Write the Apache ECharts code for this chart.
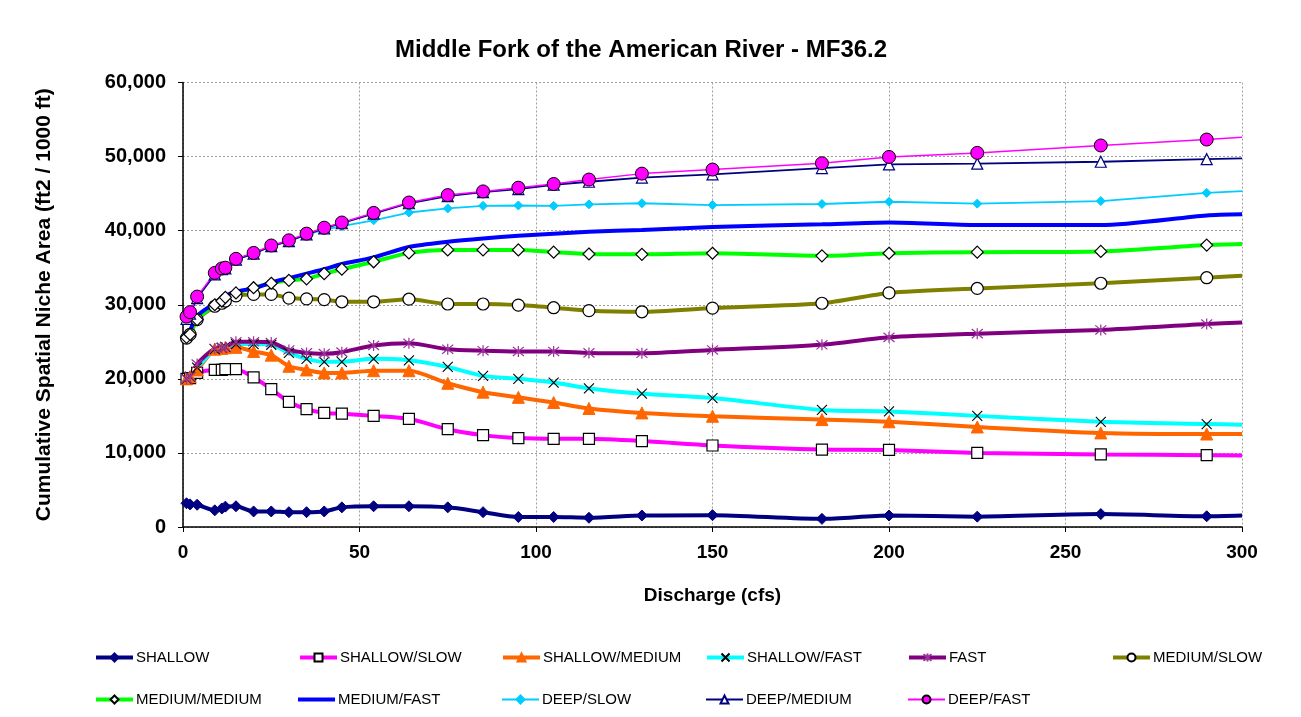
<!DOCTYPE html>
<html>
<head>
<meta charset="utf-8">
<script src="https://cdn.jsdelivr.net/npm/echarts@6/dist/echarts.min.js"></script>
<style>
html,body{margin:0;padding:0;background:#fff;}
#chart{width:1301px;height:717px;}
</style>
</head>
<body>
<div id="chart"></div>
<script>
const discharge = [1,2,4,9,11,12,15,20,25,30,35,40,45,54,64,75,85,95,105,115,130,150,181,200,225,260,290,300];

const shallow       = [3200,3050,3000,2250,2500,2750,2800,2100,2100,2000,2000,2100,2650,2800,2800,2650,2000,1350,1350,1250,1550,1600,1100,1550,1400,1750,1450,1550];
const shallowSlow   = [20000,20100,20800,21200,21200,21300,21300,20200,18600,16900,15900,15400,15300,15000,14600,13200,12400,12000,11900,11900,11600,11000,10450,10400,10000,9800,9700,9650];
const shallowMedium = [20000,20300,21200,24000,24100,24200,24250,23700,23200,21700,21200,20800,20800,21100,21100,19400,18200,17500,16800,16000,15400,14950,14500,14200,13500,12700,12550,12550];
const shallowFast   = [20000,20300,21500,24000,24200,24300,24700,24700,24600,23500,22700,22300,22300,22700,22500,21600,20400,20000,19500,18700,18000,17400,15800,15600,15000,14200,13900,13800];
const fast          = [20000,20300,22000,24100,24200,24300,25000,25000,24900,23900,23500,23400,23600,24500,24800,24000,23800,23700,23700,23500,23450,23900,24600,25600,26100,26600,27400,27600];
const mediumSlow    = [25500,26000,28000,29800,30200,30500,31200,31400,31400,30900,30800,30700,30400,30400,30750,30100,30100,29950,29600,29200,29050,29550,30200,31600,32200,32900,33650,33900];
const mediumMedium  = [25600,26000,28000,30000,30500,31000,31600,32300,32900,33300,33500,34200,34800,35800,37000,37400,37400,37400,37100,36850,36800,36950,36600,36950,37100,37200,38050,38200];
const mediumFast    = [25500,26500,28500,30200,30800,31200,31800,32200,33000,33600,34200,34800,35500,36400,37800,38500,38950,39300,39600,39850,40100,40500,40850,41100,40750,40750,42050,42200];
const deepSlow      = [28200,28800,30900,34100,34800,35000,36100,36900,37900,38600,39500,40100,40600,41400,42450,43000,43350,43400,43350,43550,43700,43450,43600,43900,43650,44000,45100,45350];
const deepMedium    = [28100,28800,30900,34100,34800,34900,36100,36900,37900,38600,39500,40300,41000,42300,43700,44650,45200,45600,46200,46600,47150,47600,48450,48950,49050,49300,49650,49750];
const deepFast      = [28400,29000,31100,34300,34900,35000,36200,37000,38000,38700,39600,40400,41100,42400,43800,44800,45300,45800,46300,46900,47700,48250,49100,49950,50500,51500,52300,52600];

const yTicks = [0,10000,20000,30000,40000,50000,60000];
const xTicks = [0,50,100,150,200,250,300];

function pairs(arr){
  return arr.map((v,i)=> i===arr.length-1 ? {value:[discharge[i],v], symbol:'none'} : [discharge[i],v]);
}

const X_PATH = 'path://M0,0L10,10M10,0L0,10';
const STAR_PATH = 'path://M0,0L10,10M10,0L0,10M5,-1L5,11';

const defs = [
  {name:'SHALLOW', data:shallow, color:'#000080', w:4, symbol:'diamond', size:11, fill:'#000080', border:'#000080', bw:1, smooth:0.25},
  {name:'SHALLOW/SLOW', data:shallowSlow, color:'#FF00FF', w:4, symbol:'rect', size:11, fill:'#ffffff', border:'#000000', bw:1.2, smooth:0.25},
  {name:'SHALLOW/MEDIUM', data:shallowMedium, color:'#FF6600', w:4, symbol:'triangle', size:12, fill:'#FF6600', border:'#FF6600', bw:1, smooth:0.25},
  {name:'SHALLOW/FAST', data:shallowFast, color:'#00FFFF', w:4, symbol:X_PATH, size:10, fill:'transparent', border:'#000000', bw:1.1, smooth:0.25},
  {name:'FAST', data:fast, color:'#800080', w:4, symbol:STAR_PATH, size:11, fill:'transparent', border:'#993399', bw:1.2, smooth:0.25},
  {name:'MEDIUM/SLOW', data:mediumSlow, color:'#808000', w:4, symbol:'circle', size:12, fill:'#ffffff', border:'#000000', bw:1.2, smooth:0.25},
  {name:'MEDIUM/MEDIUM', data:mediumMedium, color:'#00FF00', w:4, symbol:'diamond', size:12, fill:'#ffffff', border:'#000000', bw:1.2, smooth:0.25},
  {name:'MEDIUM/FAST', data:mediumFast, color:'#0000FF', w:4, symbol:'none', size:0, fill:'#0000FF', border:'#0000FF', bw:0, smooth:0.25},
  {name:'DEEP/SLOW', data:deepSlow, color:'#00CCFF', w:1.8, symbol:'diamond', size:9, fill:'#00CCFF', border:'#00CCFF', bw:1, smooth:false},
  {name:'DEEP/MEDIUM', data:deepMedium, color:'#000080', w:1.8, symbol:'triangle', size:11, fill:'#ffffff', border:'#000080', bw:1.2, smooth:false},
  {name:'DEEP/FAST', data:deepFast, color:'#FF00FF', w:1.5, symbol:'circle', size:13, fill:'#FF00FF', border:'#000000', bw:1, smooth:false}
];

const series = defs.map(d => ({
  name: d.name,
  type: 'line',
  data: pairs(d.data),
  smooth: d.smooth,
  symbol: d.symbol,
  symbolSize: d.size,
  showAllSymbol: true,
  lineStyle: {color: d.color, width: d.w},
  itemStyle: {color: d.fill, borderColor: d.border, borderWidth: d.bw},
  emphasis: {disabled: true},
  animation: false,
  clip: true
}));

// legend layout: 6 columns, 2 rows
const legendLeft = [94, 298, 501, 705, 907, 1111];
const legendTop = [650, 692];
const legends = defs.map((d, i) => {
  const item = d.symbol === 'none'
    ? {name: d.name, icon: 'rect', itemStyle: {color: d.color, borderWidth: 0}}
    : {name: d.name};
  return {
    data: [item],
    left: legendLeft[i % 6],
    top: legendTop[Math.floor(i / 6)],
    itemWidth: 37,
    itemHeight: d.symbol === 'none' ? 4 : 10,
    itemGap: 0,
    padding: 0,
    selectedMode: false,
    lineStyle: {width: d.w >= 3 ? 4 : 2},
    textStyle: {fontFamily: 'Liberation Sans, Arial, sans-serif', fontSize: 15, color: '#000', padding: [0,0,0,-2]}
  };
});

const chart = echarts.init(document.getElementById('chart'), null, {renderer: 'canvas'});
chart.setOption({
  backgroundColor: '#ffffff',
  animation: false,
  title: {
    text: 'Middle Fork of the American River - MF36.2',
    left: 390,
    top: 33,
    textStyle: {fontFamily: 'Liberation Sans, Arial, sans-serif', fontSize: 24, fontWeight: 'bold', color: '#000'}
  },
  legend: legends,
  grid: {left: 183, top: 82.5, right: 59, bottom: 190, containLabel: false},
  xAxis: {
    type: 'value',
    min: xTicks[0],
    max: xTicks[xTicks.length-1],
    interval: 50,
    name: 'Discharge (cfs)',
    nameLocation: 'middle',
    nameGap: 59,
    nameTextStyle: {fontFamily: 'Liberation Sans, Arial, sans-serif', fontSize: 19, fontWeight: 'bold', color: '#000'},
    axisLine: {show: true, lineStyle: {color: '#000', width: 1.5}},
    axisTick: {show: true, length: 5, inside: false, lineStyle: {color: '#000'}},
    axisLabel: {fontFamily: 'Liberation Sans, Arial, sans-serif', fontSize: 19, fontWeight: 'bold', color: '#000', margin: 16},
    splitLine: {show: true, lineStyle: {color: '#a0a0a0', width: 1, type: [2, 2]}}
  },
  yAxis: {
    type: 'value',
    min: yTicks[0],
    max: yTicks[yTicks.length-1],
    interval: 10000,
    name: 'Cumulative Spatial Niche Area (ft2 / 1000 ft)',
    nameLocation: 'middle',
    nameGap: 128,
    nameTextStyle: {fontFamily: 'Liberation Sans, Arial, sans-serif', fontSize: 21, fontWeight: 'bold', color: '#000'},
    axisLine: {show: true, lineStyle: {color: '#000', width: 1.5}},
    axisTick: {show: true, length: 5, inside: false, lineStyle: {color: '#000'}},
    axisLabel: {fontFamily: 'Liberation Sans, Arial, sans-serif', fontSize: 20, fontWeight: 'bold', color: '#000', margin: 17,
      formatter: v => v.toLocaleString('en-US')},
    splitLine: {show: true, lineStyle: {color: '#a0a0a0', width: 1, type: [2, 2]}}
  },
  series: series
});
</script>
</body>
</html>
